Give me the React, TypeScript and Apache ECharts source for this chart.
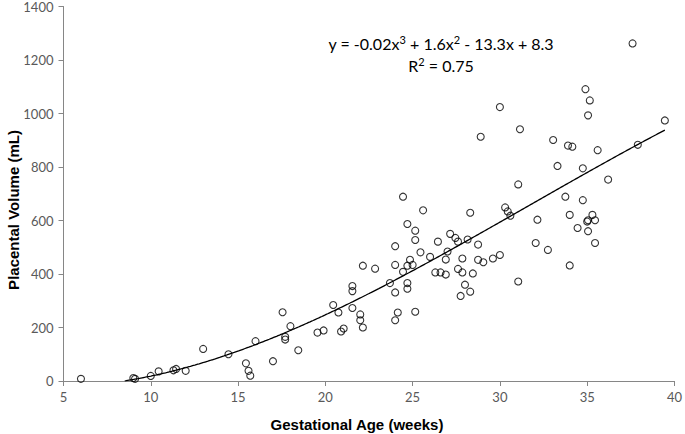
import React, { useEffect, useRef } from "react";
import * as echarts from "echarts";

const xTicks = [5, 10, 15, 20, 25, 30, 35, 40];
const yTicks = [0, 200, 400, 600, 800, 1000, 1200, 1400];

// Gestational age (weeks) of each measurement
const gestAge = [
  6.0, 9.0, 9.1, 10.0, 10.45, 11.3, 11.45, 12.0, 13.0, 14.45,
  15.45, 15.6, 15.7, 16.0, 17.0, 17.55, 17.7, 17.7, 18.0, 18.45,
  19.55, 19.9, 20.45, 20.75, 20.9, 21.05, 21.55, 21.55, 21.55, 22.0,
  22.0, 22.15, 22.15, 22.85, 23.7, 24.0, 24.0, 24.0, 24.0, 24.15,
  24.45, 24.45, 24.7, 24.7, 24.7, 24.7, 24.85, 25.0, 25.15, 25.15,
  25.15, 25.45, 25.6, 26.0, 26.3, 26.45, 26.6, 26.9, 26.9, 27.0,
  27.15, 27.45, 27.6, 27.6, 27.75, 27.85, 27.85, 28.0, 28.15, 28.3,
  28.3, 28.45, 28.75, 28.75, 28.9, 29.05, 29.6, 30.0, 30.0, 30.3,
  30.45, 30.6, 31.05, 31.05, 31.15, 32.05, 32.15, 32.75, 33.05, 33.3,
  33.75, 33.9, 34.15, 34.0, 34.0, 34.45, 34.75, 34.75, 34.9, 35.15,
  35.05, 35.05, 35.0, 35.05, 35.3, 35.45, 35.45, 35.6, 36.2, 37.6,
  37.9, 39.45,
];

// Placental volume (mL) of each measurement
const placentalVolume = [
  8, 11, 8, 19, 36, 40, 45, 38, 120, 100,
  66, 38, 20, 149, 74, 257, 165, 155, 205, 115,
  181, 189, 284, 256, 185, 196, 355, 336, 273, 249,
  227, 200, 431, 420, 366, 504, 434, 331, 227, 256,
  689, 408, 587, 431, 366, 345, 453, 434, 562, 527,
  259, 481, 638, 464, 406, 521, 406, 454, 398, 484,
  550, 535, 521, 419, 318, 458, 406, 360, 529, 334,
  629, 402, 510, 453, 913, 444, 458, 1024, 471, 649,
  634, 618, 735, 372, 941, 516, 603, 490, 901, 804,
  689, 880, 876, 621, 432, 572, 795, 676, 1091, 1049,
  993, 601, 596, 560, 621, 601, 516, 863, 753, 1262,
  883, 974,
];

// Cubic trendline coefficients (x^3, x^2, x, const)
const trendCoefficients = [-0.01687, 1.6, -13.3, 8.3];
const trendRange = [6, 39.45];

const equationText = ["y = -0.02x", "3", " + 1.6x", "2", " - 13.3x + 8.3"];
const r2Text = ["R", "2", " = 0.75"];

export default function App() {
  const ref = useRef<HTMLDivElement>(null);

  useEffect(() => {
    if (!ref.current) return;
    const chart = echarts.init(ref.current, null, { renderer: "svg" });

    const scatterData = gestAge.map((x, i) => [x, placentalVolume[i]]);
    const trendData: number[][] = [];
    const [a, b, c, d] = trendCoefficients;
    for (let i = 0; i <= 400; i++) {
      const x = trendRange[0] + ((trendRange[1] - trendRange[0]) * i) / 400;
      const y = a * x * x * x + b * x * x + c * x + d;
      if (y >= 0) trendData.push([x, y]);
    }

    const tickFont = { fontFamily: "Lato", fontSize: 13, color: "#595959" };
    const rich = {
      n: { fontFamily: "Lato", fontSize: 16, color: "#000", lineHeight: 20, verticalAlign: "bottom" },
      s: { fontFamily: "Lato", fontSize: 11, color: "#000", lineHeight: 20, verticalAlign: "top", padding: [3, 0, 0, 0] },
    };

    chart.setOption({
      animation: false,
      backgroundColor: "#ffffff",
      grid: { left: 63.5, right: 7.5, top: 5, bottom: 53, containLabel: false },
      xAxis: {
        type: "value",
        min: xTicks[0],
        max: xTicks[xTicks.length - 1],
        interval: 5,
        axisLine: { show: true, lineStyle: { color: "#868686", width: 1 } },
        axisTick: { show: true, length: 5, lineStyle: { color: "#868686" } },
        axisLabel: { ...tickFont, margin: 9, formatter: (v: number) => String(v) },
        splitLine: { show: false },
      },
      yAxis: {
        type: "value",
        min: yTicks[0],
        max: yTicks[yTicks.length - 1],
        interval: 200,
        axisLine: { show: true, lineStyle: { color: "#868686", width: 1 } },
        axisTick: { show: true, length: 5, lineStyle: { color: "#868686" } },
        axisLabel: { ...tickFont, margin: 10, formatter: (v: number) => String(v) },
        splitLine: { show: false },
      },
      series: [
        {
          type: "line",
          data: trendData,
          showSymbol: false,
          symbol: "none",
          lineStyle: { color: "#000000", width: 1.3 },
          z: 2,
        },
        {
          type: "scatter",
          data: scatterData,
          symbol: "circle",
          symbolSize: 7,
          itemStyle: { color: "rgba(255,255,255,0)", borderColor: "#000000", borderWidth: 1.1 },
          z: 3,
        },
      ],
      graphic: [
        {
          type: "text",
          x: 357,
          y: 424,
          style: {
            text: "Gestational Age (weeks)",
            fontFamily: "Liberation Sans",
            fontWeight: "bold",
            fontSize: 15,
            fill: "#000",
            align: "center",
            verticalAlign: "middle",
          },
        },
        {
          type: "text",
          x: 13,
          y: 210,
          rotation: Math.PI / 2,
          style: {
            text: "Placental Volume (mL)",
            fontFamily: "Liberation Sans",
            fontWeight: "bold",
            fontSize: 15,
            fill: "#000",
            align: "center",
            verticalAlign: "middle",
          },
        },
        {
          type: "text",
          x: 441,
          y: 41,
          style: {
            text:
              "{n|" + equationText[0] + "}{s|" + equationText[1] + "}{n|" + equationText[2] +
              "}{s|" + equationText[3] + "}{n|" + equationText[4] + "}",
            align: "center",
            verticalAlign: "middle",
            rich,
          },
        },
        {
          type: "text",
          x: 441,
          y: 63,
          style: {
            text: "{n|" + r2Text[0] + "}{s|" + r2Text[1] + "}{n|" + r2Text[2] + "}",
            align: "center",
            verticalAlign: "middle",
            rich,
          },
        },
      ],
    });

    return () => chart.dispose();
  }, []);

  return <div ref={ref} style={{ width: 685, height: 434, position: "absolute", left: 0, top: 0 }} />;
}
